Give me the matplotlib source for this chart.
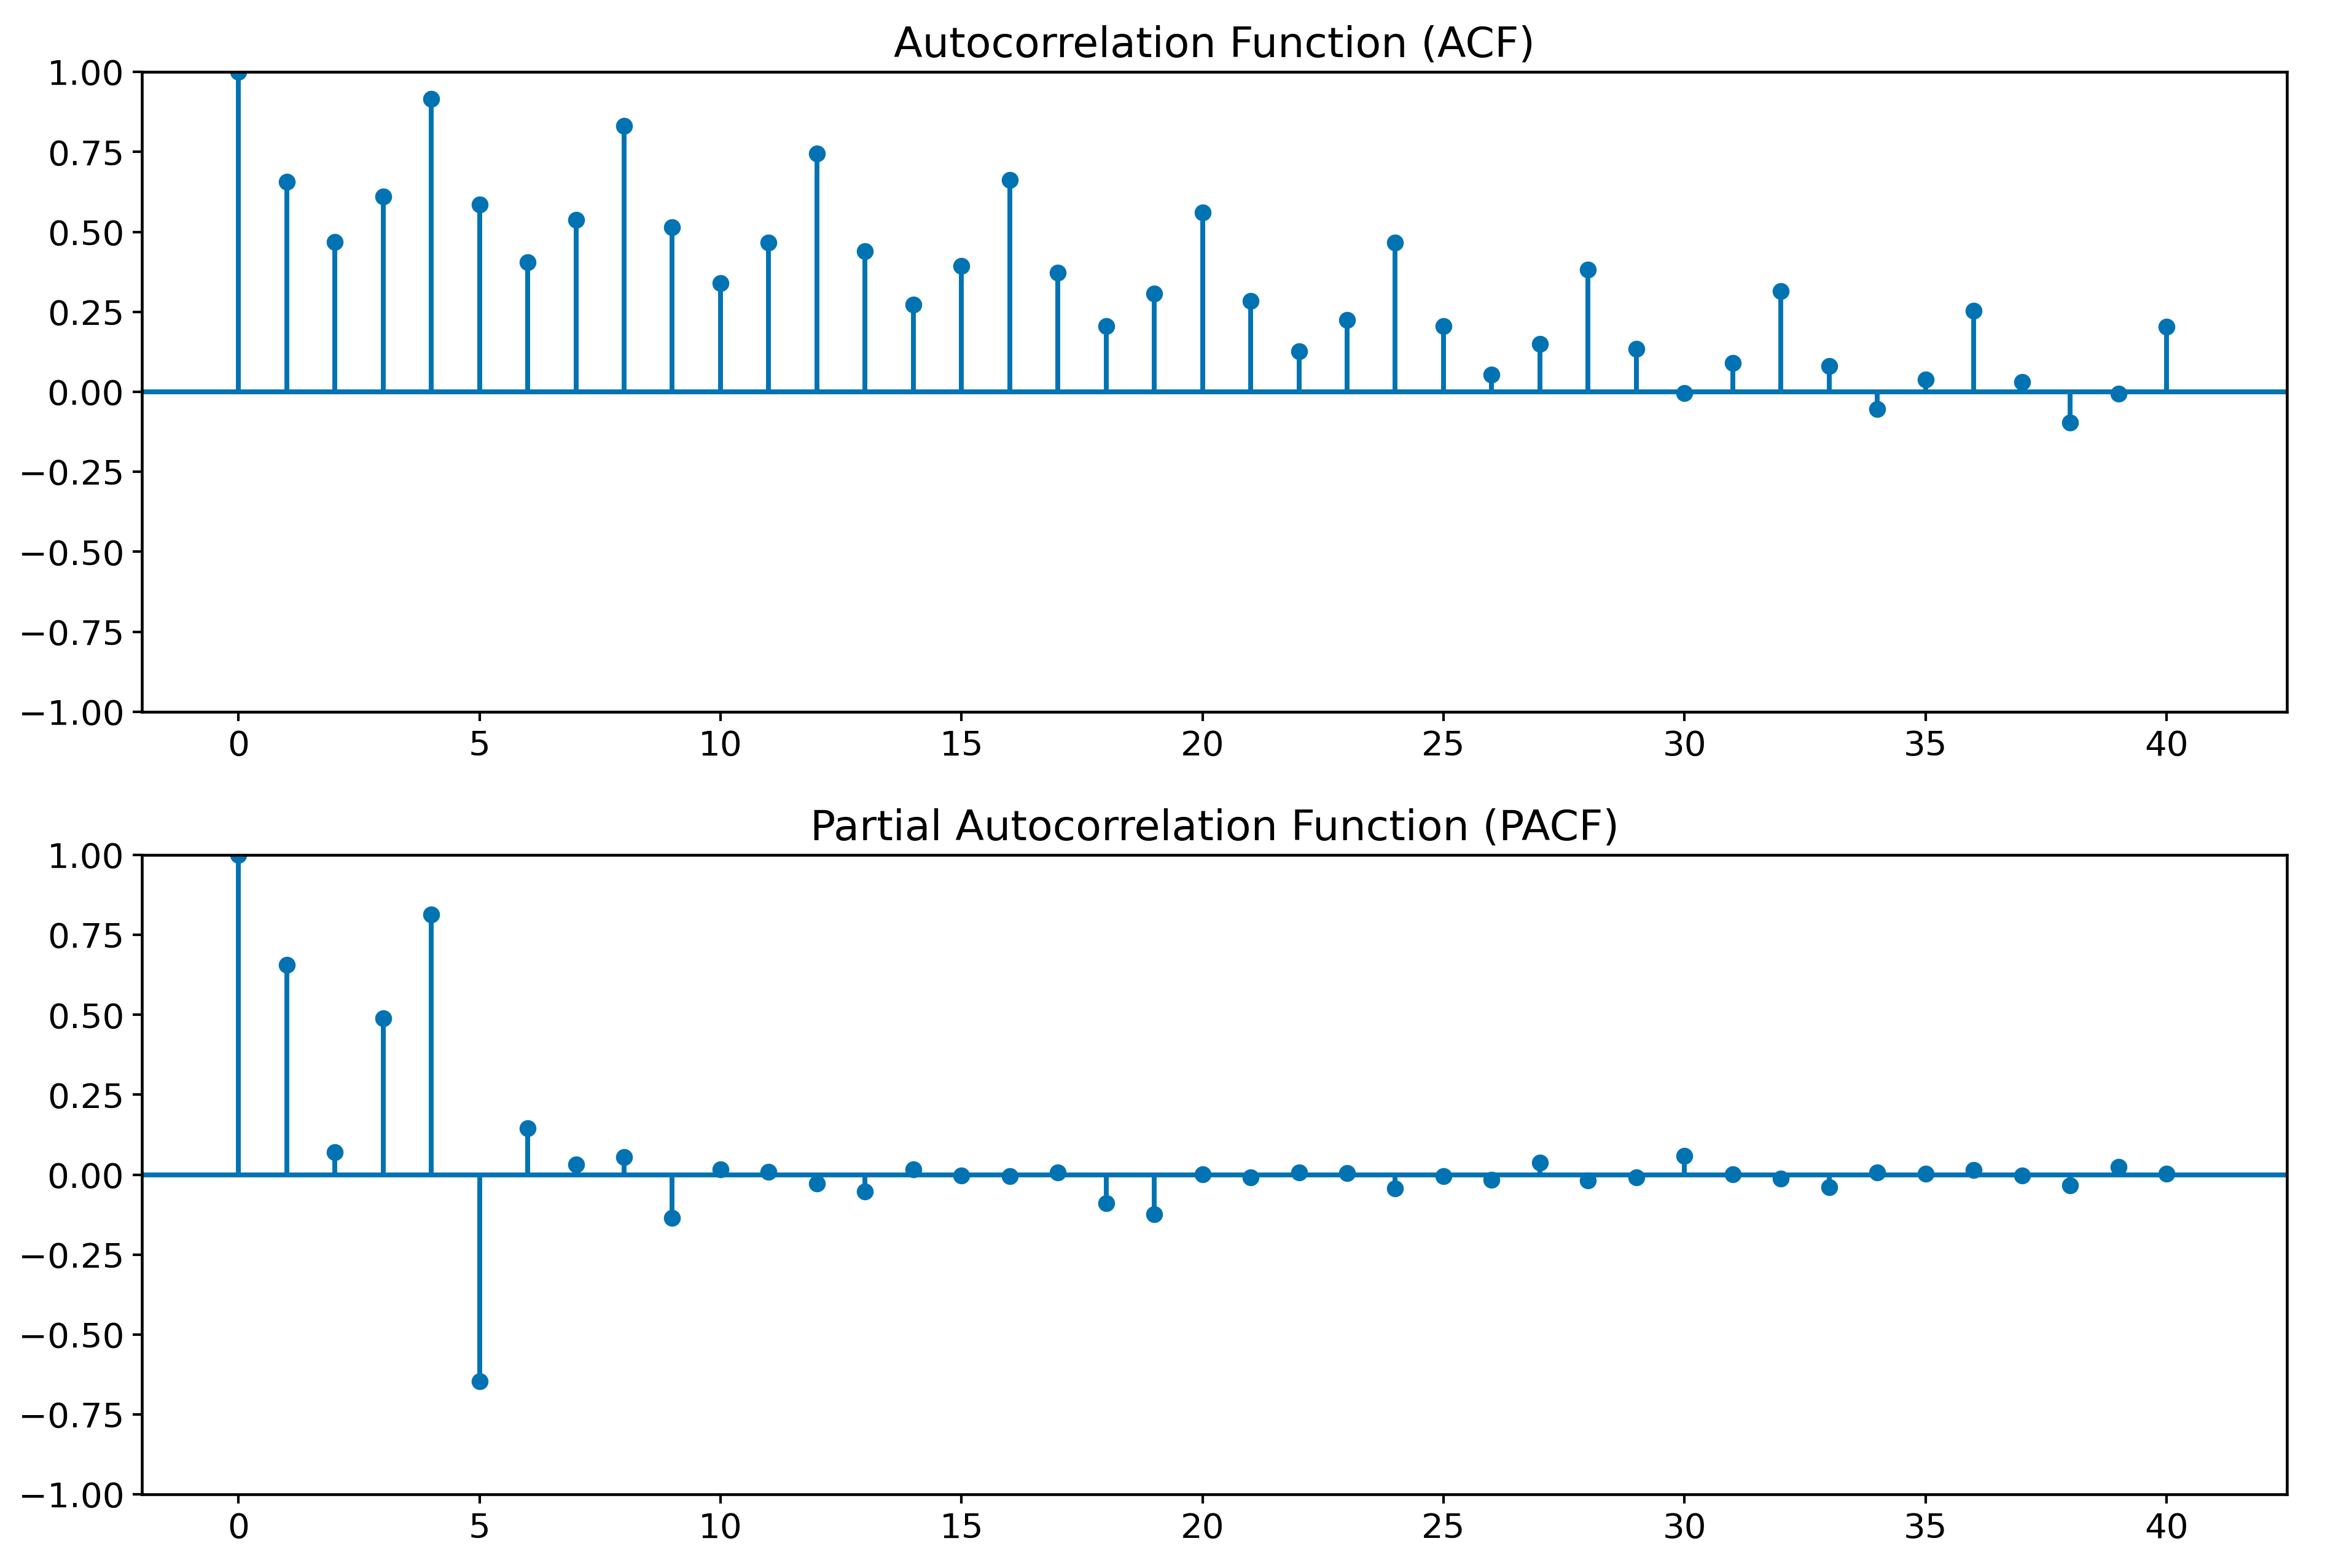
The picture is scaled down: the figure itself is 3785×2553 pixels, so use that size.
import matplotlib
matplotlib.use("Agg")
import matplotlib.pyplot as plt
import numpy as np

# lags 0..40
lags = np.arange(41)

acf_vals = [1.000, 0.656, 0.468, 0.611, 0.915, 0.586, 0.406, 0.538, 0.831, 0.515,
            0.340, 0.466, 0.745, 0.440, 0.272, 0.394, 0.662, 0.372, 0.205, 0.308,
            0.561, 0.285, 0.127, 0.225, 0.466, 0.205, 0.054, 0.149, 0.383, 0.135,
            -0.004, 0.090, 0.315, 0.080, -0.053, 0.038, 0.253, 0.030, -0.096, -0.006,
            0.204]

pacf_vals = [1.000, 0.656, 0.070, 0.490, 0.814, -0.647, 0.146, 0.031, 0.054, -0.135,
             0.016, 0.009, -0.027, -0.053, 0.017, -0.002, -0.005, 0.007, -0.089, -0.124,
             0.001, -0.009, 0.007, 0.005, -0.043, -0.005, -0.016, 0.037, -0.018, -0.009,
             0.059, 0.002, -0.012, -0.039, 0.006, 0.003, 0.014, -0.002, -0.034, 0.024,
             0.003]

titles = ["Autocorrelation Function (ACF)", "Partial Autocorrelation Function (PACF)"]

blue = '#0173b2'
plt.rcParams['font.family'] = 'DejaVu Sans'
plt.rcParams['axes.linewidth'] = 1.1
plt.rcParams['xtick.major.width'] = 1.0
plt.rcParams['ytick.major.width'] = 1.0

fig = plt.figure(figsize=(12.62, 8.51), dpi=300)
ax1 = fig.add_axes([0.0611, 0.5461, 0.9223, 0.4080])
ax2 = fig.add_axes([0.0611, 0.0470, 0.9223, 0.4077])


def corr_plot(ax, vals, title):
    ax.vlines(lags, 0, vals, color=blue, linewidth=1.9)
    ax.axhline(0, color=blue, linewidth=1.9)
    ax.plot(lags, vals, 'o', color=blue, markersize=5.6)
    ax.set_title(title, fontsize=16.4)
    ax.set_ylim(-1, 1)
    ax.set_xlim(-2, 42.5)
    ax.set_xticks(np.arange(0, 41, 5))
    ax.set_yticks(np.arange(-1, 1.01, 0.25))
    ax.tick_params(labelsize=13.5)


corr_plot(ax1, acf_vals, titles[0])
corr_plot(ax2, pacf_vals, titles[1])

fig.savefig('out.png', dpi=300)
